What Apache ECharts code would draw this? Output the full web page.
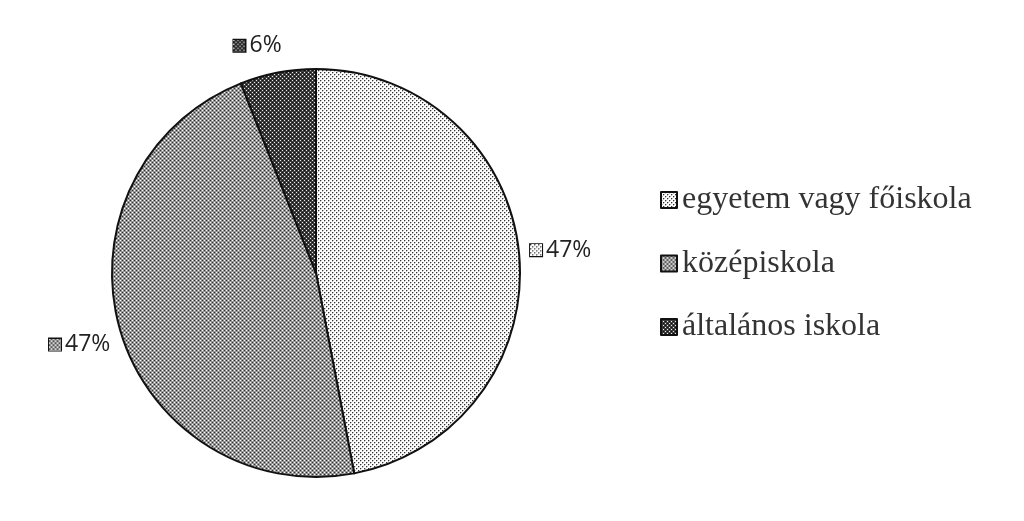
<!DOCTYPE html>
<html>
<head>
<meta charset="utf-8">
<script src="https://cdn.jsdelivr.net/npm/echarts@6/dist/echarts.min.js"></script>
<style>
  html, body { margin: 0; padding: 0; background: #fff; }
  #main { width: 1024px; height: 521px; }
</style>
</head>
<body>
<div id="main"></div>
<script>
const categories = ['egyetem vagy főiskola', 'középiskola', 'általános iskola'];
const shares = [47, 47, 6];
// nudges for the slice labels, as placed in the print
const labelNudge = [[-6, -3], [7, 13], [16, -21]];

// small grey tiles standing in for the print hatching
function tile(rows) {
  const n = rows.length;
  const c = document.createElement('canvas');
  c.width = n; c.height = n;
  const ctx = c.getContext('2d');
  const img = ctx.createImageData(n, n);
  for (let y = 0; y < n; y++) {
    for (let x = 0; x < n; x++) {
      const v = rows[y][x];
      const i = (y * n + x) * 4;
      img.data[i] = v; img.data[i + 1] = v; img.data[i + 2] = v; img.data[i + 3] = 255;
    }
  }
  ctx.putImageData(img, 0, 0);
  return c;
}

function swatch(t, size) {
  const c = document.createElement('canvas');
  c.width = size; c.height = size;
  const ctx = c.getContext('2d');
  ctx.fillStyle = ctx.createPattern(t, 'repeat');
  ctx.fillRect(0, 0, size, size);
  return c;
}

const lightTile = tile([
  [50, 190, 255, 255],
  [190, 250, 255, 255],
  [255, 255, 50, 190],
  [255, 255, 190, 250]
]);
const midTile = tile([
  [255, 150, 45, 150],
  [150, 150, 150, 150],
  [45, 150, 255, 150],
  [150, 150, 150, 150]
]);
const darkTile = tile([
  [235, 60, 15, 60],
  [60, 60, 60, 60],
  [15, 60, 235, 60],
  [60, 60, 60, 60]
]);
const tiles = [lightTile, midTile, darkTile];
const fills = tiles.map(t => ({ image: t, repeat: 'repeat' }));

const rich = {};
tiles.forEach((t, i) => {
  rich['ic' + i] = {
    width: 12, height: 12,
    backgroundColor: { image: swatch(t, 12) },
    borderColor: '#111', borderWidth: 2
  };
});
rich.val = { fontFamily: 'Open Sans', fontSize: 23, color: '#222', padding: [0, 0, 0, 4] };

const chart = echarts.init(document.getElementById('main'));
chart.setOption({
  animation: false,
  backgroundColor: '#fff',
  legend: {
    orient: 'vertical',
    left: 655,
    top: 178,
    itemWidth: 16,
    itemHeight: 16,
    itemGap: 29.5,
    icon: 'rect',
    itemStyle: { borderColor: '#111', borderWidth: 2 },
    textStyle: { fontFamily: 'Liberation Serif', fontSize: 32, color: '#333', lineHeight: 34 },
    data: categories
  },
  series: [{
    type: 'pie',
    center: [316, 273],
    radius: 204,
    startAngle: 90,
    clockwise: true,
    itemStyle: { borderColor: '#111', borderWidth: 2 },
    label: {
      show: true,
      position: 'outside',
      formatter: p => '{ic' + p.dataIndex + '|}{val|' + p.value + '%}',
      rich: rich
    },
    labelLine: { show: false, length: 6, length2: 6 },
    labelLayout: p => ({ dx: labelNudge[p.dataIndex][0], dy: labelNudge[p.dataIndex][1] }),
    emphasis: { disabled: true },
    data: categories.map((name, i) => ({
      name: name,
      value: shares[i],
      itemStyle: { color: fills[i] }
    }))
  }]
});
</script>
</body>
</html>
